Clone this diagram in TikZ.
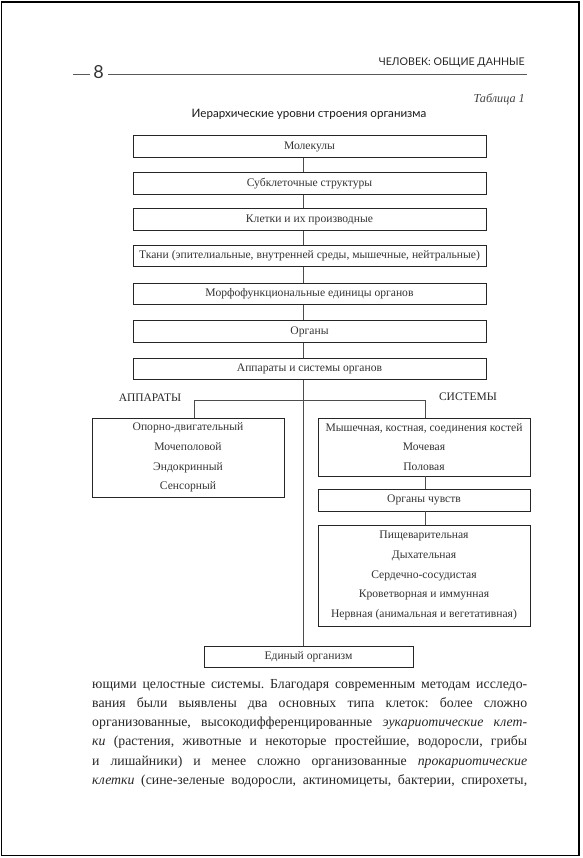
\documentclass[tikz,border=0pt]{standalone}
\usepackage{fontspec}
\setmainfont{Liberation Serif}
\newfontfamily\hdrfont{Lato}
\frenchspacing
\begin{document}
\begin{tikzpicture}[x=1pt,y=-1pt,
  box/.style={draw=black!85, line width=0.8pt, inner sep=0pt, align=center,
    font=\fontsize{11.6}{19.6}\selectfont, text=black!80},
  mainbox/.style={box, minimum width=353pt, minimum height=21.5pt},
  link/.style={draw=black!70, line width=0.7pt},
  lbl/.style={font=\fontsize{11.5}{13}\selectfont, text=black!85, inner sep=0pt},
  para/.style={anchor=base west, inner sep=0pt, font=\fontsize{13.8}{19}\selectfont, text=black!85}
]
\useasboundingbox (0,0) rectangle (582,858);
\draw[line width=1.4pt] (1.5,2) rectangle (579,855.5);

% header
\node[anchor=base east, inner sep=0pt, font=\hdrfont\fontsize{10.6}{12}\selectfont, text=black!85] (hdr) at (525,66) {ЧЕЛОВЕК: ОБЩИЕ ДАННЫЕ};
\node[inner sep=0pt, font=\hdrfont\fontsize{18}{20}\selectfont, text=black!80] (pg) at (98.5,72.5) {8};
\coordinate (d1) at (73,74);
\coordinate (d2) at (527,74);
\draw[black!65, line width=0.8pt] (d1) -- (90,74);
\draw[black!65, line width=0.8pt] (108,74) -- (d2);
\node[anchor=base east, inner sep=0pt, font=\itshape\fontsize{12.2}{13}\selectfont, text=black!75] (tab) at (525,103) {Таблица 1};
\node[anchor=base, inner sep=0pt, font=\hdrfont\fontsize{11.6}{13}\selectfont, text=black!90] (title) at (309,118) {Иерархические уровни строения организма};

% spine
\coordinate (sp) at (303,0);

\node[mainbox] (m1) at (309.5,146.5) {Молекулы};
\node[mainbox] (m2) at (309.5,183.5) {Субклеточные структуры};
\node[mainbox] (m3) at (309.5,219.5) {Клетки и их производные};
\node[mainbox] (m4) at (309.5,256) {Ткани (эпителиальные, внутренней среды, мышечные, нейтральные)};
\node[mainbox] (m5) at (309.5,294) {Морфофункциональные единицы органов};
\node[mainbox] (m6) at (309.5,331.5) {Органы};
\node[mainbox] (m7) at (309.5,369) {Аппараты и системы органов};

\draw[link] (m1.south -| sp) -- (m2.north -| sp);
\draw[link] (m2.south -| sp) -- (m3.north -| sp);
\draw[link] (m3.south -| sp) -- (m4.north -| sp);
\draw[link] (m4.south -| sp) -- (m5.north -| sp);
\draw[link] (m5.south -| sp) -- (m6.north -| sp);
\draw[link] (m6.south -| sp) -- (m7.north -| sp);

% branches
\node[lbl] (app) at (150,398) {АППАРАТЫ};
\node[lbl] (sys) at (468,397) {СИСТЕМЫ};

\node[box, minimum width=192pt, minimum height=79pt] (lb) at (188,457.5)
  {Опорно-двигательный\\Мочеполовой\\Эндокринный\\Сенсорный};
\node[box, minimum width=212pt, minimum height=58pt] (rb1) at (424,447)
  {Мышечная, костная, соединения костей\\Мочевая\\Половая};
\node[box, minimum width=212pt, minimum height=22pt] (rb2) at (424,500) {Органы чувств};
\node[box, minimum width=212pt, minimum height=101pt] (rb3) at (424,575.5)
  {Пищеварительная\\Дыхательная\\Сердечно-сосудистая\\Кроветворная и иммунная\\Нервная (анимальная и вегетативная)};
\node[box, minimum width=209pt, minimum height=21pt] (ed) at (308.5,656.5) {Единый организм};

\coordinate (bl) at (194,400);
\coordinate (bR) at (425,400);
\draw[link] (lb.north -| bl) -- (bl) -- (bR) -- (rb1.north -| bR);
\draw[link] (rb1.south -| bR) -- (rb2.north -| bR);
\draw[link] (rb2.south -| bR) -- (rb3.north -| bR);
\draw[link] (m7.south -| sp) -- (ed.north -| sp);

% paragraph
\node[para] (p1) at (92,688) {\hbox to 435pt{ющими целостные системы. Благодаря современным методам исследо-}};
\node[para] (p2) at (92,707.3) {\hbox to 435pt{вания были выявлены два основных типа клеток: более сложно}};
\node[para] (p3) at (92,726.6) {\hbox to 435pt{организованные, высокодифференцированные \textit{эукариотические клет-}}};
\node[para] (p4) at (92,745.9) {\hbox to 435pt{\textit{ки} (растения, животные и некоторые простейшие, водоросли, грибы}};
\node[para] (p5) at (92,765.2) {\hbox to 435pt{и лишайники) и менее сложно организованные \textit{прокариотические}}};
\node[para] (p6) at (92,784.5) {\hbox to 435pt{\textit{клетки} (сине-зеленые водоросли, актиномицеты, бактерии, спирохеты,}};
\end{tikzpicture}
\end{document}
